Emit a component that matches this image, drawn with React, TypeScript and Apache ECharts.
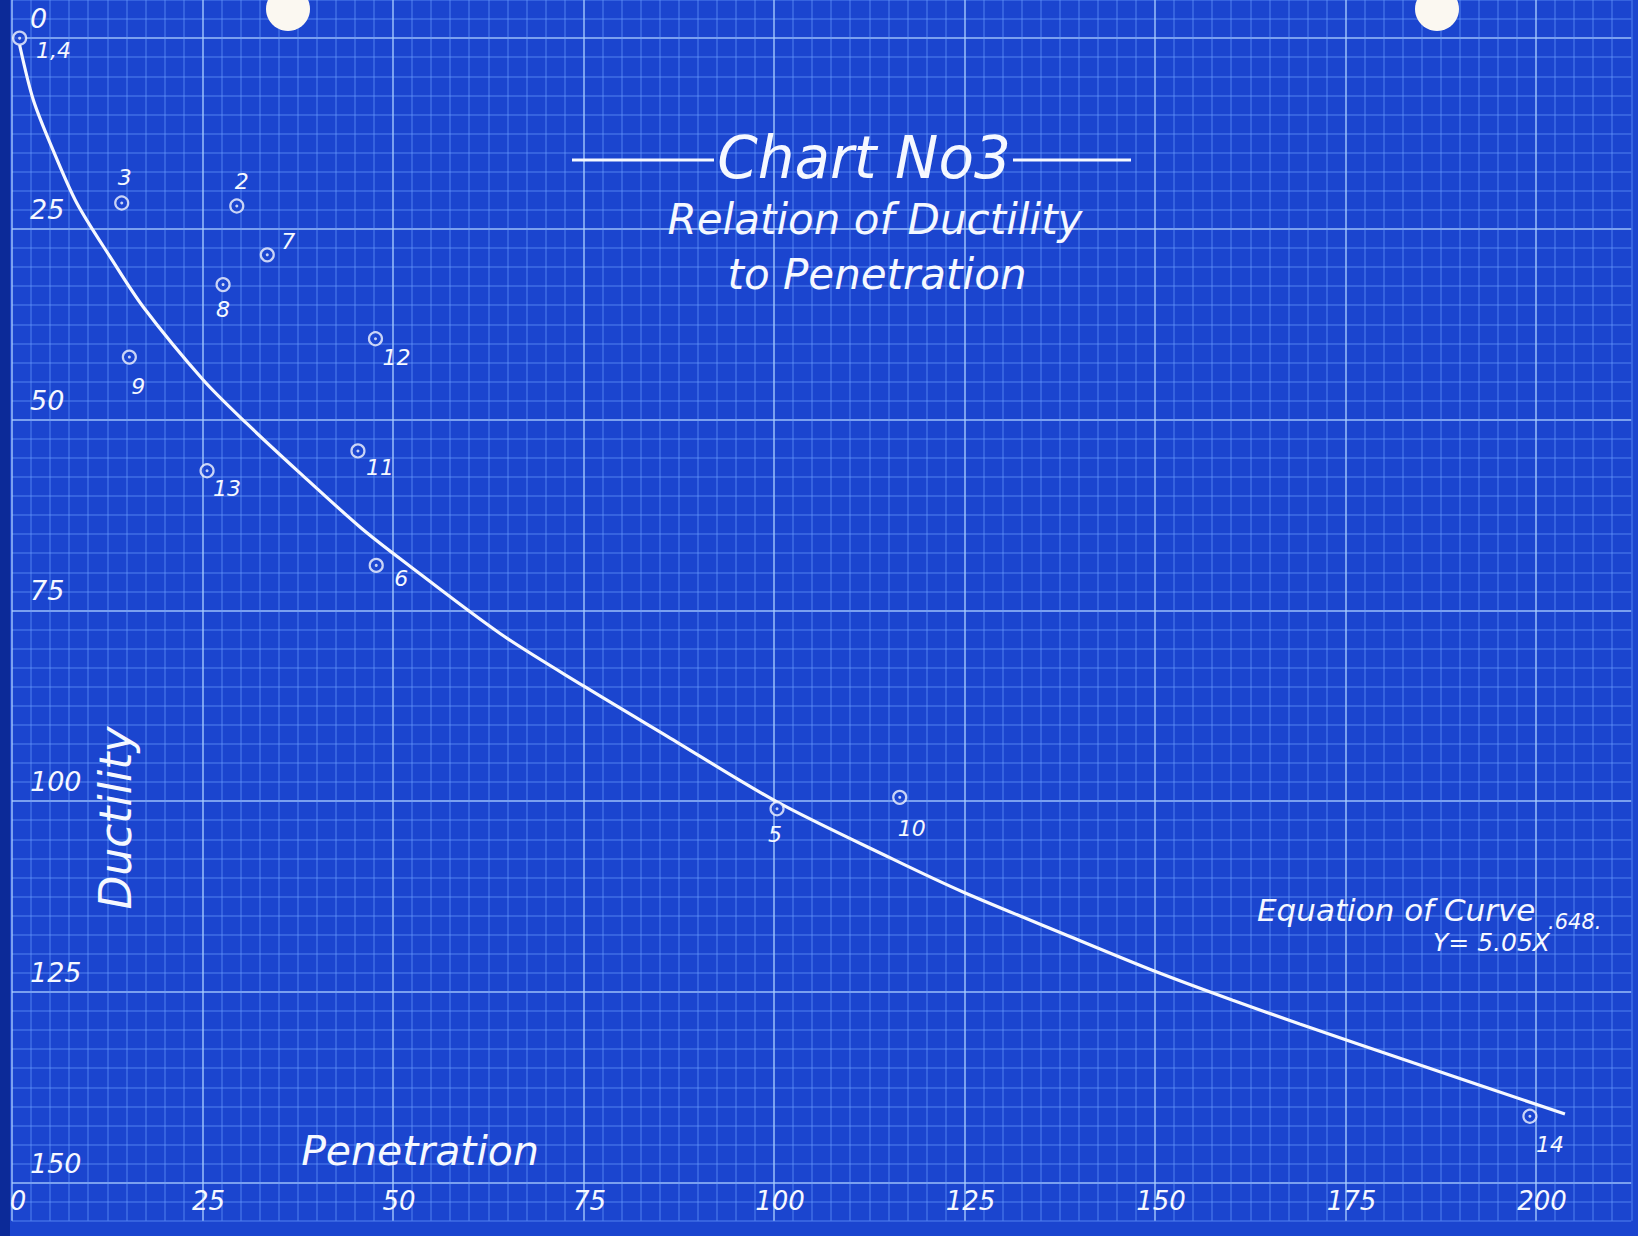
import React, { useEffect, useRef } from "react";
import * as echarts from "echarts";

// ---- data ----
const pointLabels = ["1,4", "3", "2", "7", "8", "9", "12", "13", "11", "6", "5", "10", "14"];
const pointPenetration = [1.0, 14.4, 29.5, 33.5, 27.7, 15.4, 47.7, 25.6, 45.4, 47.8, 100.4, 116.5, 199.2];
const pointDuctility = [0.0, 21.6, 22.0, 28.4, 32.3, 41.8, 39.4, 56.7, 54.1, 69.1, 101.0, 99.5, 141.3];

const curvePenetration = [1.0, 2.8, 5.4, 8.5, 12.9, 17.2, 25.1, 30.8, 37.8, 45.7, 50.9, 64.0, 75.0, 86.0, 100.4, 115.6, 124.8, 138.5, 150.0, 160.2, 169.0, 183.9, 203.8];
const curveDuctility = [0.9, 8.1, 14.7, 21.6, 28.7, 35.2, 44.8, 50.5, 57.0, 64.1, 68.2, 78.0, 84.9, 91.5, 100.1, 107.6, 111.9, 117.6, 122.3, 126.1, 129.2, 134.3, 141.0];

const penetrationTicks = [0, 25, 50, 75, 100, 125, 150, 175, 200];
const ductilityTicks = [0, 25, 50, 75, 100, 125, 150];

// label placement (pixels, relative to each point) – styling only
const labelOffsets = [
  [34, 12], [3, -25], [5, -25], [21, -13], [0, 25], [9, 29], [21, 19],
  [20, 18], [22, 17], [25, 13], [-2, 26], [12, 31], [20, 28],
];

// ---- layout / style constants ----
const W = 1638;
const H = 1236;
const PX_X = 7.62;
const PX_Y = 7.63;
const LEFT = 12;
const BG = "#1b45cf";
const INK = "#f5f8ff";
const FONT = "'DejaVu Sans', 'Liberation Sans', sans-serif";
const FINE = "rgba(110,162,255,0.45)";
const MAJOR = "rgba(172,208,255,0.88)";

function cycleColors(brightIndex: number): string[] {
  const arr: string[] = [];
  for (let i = 0; i < 10; i++) arr.push(i === brightIndex ? MAJOR : FINE);
  return arr;
}

export default function App() {
  const ref = useRef<HTMLDivElement>(null);

  useEffect(() => {
    document.body.style.margin = "0";
    if (!ref.current) return;
    const chart = echarts.init(ref.current, null, { renderer: "svg" });

    const pointData = pointPenetration.map((x, i) => ({
      value: [x, pointDuctility[i]],
      name: pointLabels[i],
      label: { offset: labelOffsets[i] },
    }));
    const curveData = curvePenetration.map((x, i) => [x, curveDuctility[i]]);

    const tickSet = (arr: number[]) => (v: number) => (arr.indexOf(Math.round(v * 100) / 100) >= 0 ? String(v) : "");

    const option: any = {
      animation: false,
      backgroundColor: BG,
      grid: [
        { left: LEFT, top: 0, width: 212.5 * PX_X, height: 160 * PX_Y, containLabel: false },
        { left: LEFT, top: 5 * PX_Y, width: 200 * PX_X, height: 150 * PX_Y, containLabel: false },
      ],
      xAxis: [
        {
          type: "value", gridIndex: 0, min: 0, max: 212.5, interval: 2.5,
          axisLine: { show: false }, axisTick: { show: false }, axisLabel: { show: false },
          splitLine: { show: true, lineStyle: { color: cycleColors(0), width: 1.5 } },
        },
        {
          type: "value", gridIndex: 1, min: 0, max: 200, interval: 25, position: "bottom",
          axisLine: { show: false }, axisTick: { show: false }, splitLine: { show: false },
          axisLabel: {
            show: true, margin: 5, color: INK, fontSize: 26, fontStyle: "italic", fontFamily: FONT,
            padding: [0, 0, 0, 12],
            formatter: tickSet(penetrationTicks),
          },
        },
      ],
      yAxis: [
        {
          type: "value", gridIndex: 0, min: -5, max: 155, interval: 2.5, inverse: true,
          axisLine: { show: false }, axisTick: { show: false }, axisLabel: { show: false },
          splitLine: { show: true, lineStyle: { color: cycleColors(2), width: 1.5 } },
        },
        {
          type: "value", gridIndex: 1, min: 0, max: 150, interval: 25, inverse: true, position: "left",
          axisLine: { show: false }, axisTick: { show: false }, splitLine: { show: false },
          axisLabel: {
            show: true, inside: true, margin: 18, color: INK, fontSize: 27, fontStyle: "italic",
            fontFamily: FONT, verticalAlign: "bottom", padding: [0, 0, 6, 0],
            formatter: tickSet(ductilityTicks),
          },
        },
      ],
      series: [
        {
          type: "line", xAxisIndex: 0, yAxisIndex: 0, data: curveData, smooth: 0.3,
          showSymbol: false, symbol: "none", clip: false,
          lineStyle: { color: INK, width: 3.2 }, z: 3,
        },
        {
          type: "scatter", xAxisIndex: 0, yAxisIndex: 0, data: pointData, symbol: "circle",
          symbolSize: 13, clip: false, z: 4,
          itemStyle: { color: BG, borderColor: INK, borderWidth: 2.2 },
          label: {
            show: true, position: "inside", formatter: (p: any) => p.name, color: INK,
            fontSize: 22, fontStyle: "italic", fontFamily: FONT, opacity: 1,
          },
          emphasis: { disabled: true },
        },
        {
          type: "scatter", xAxisIndex: 0, yAxisIndex: 0,
          data: pointPenetration.map((x, i) => [x, pointDuctility[i]]),
          symbol: "circle", symbolSize: 3, clip: false, z: 5,
          itemStyle: { color: INK }, silent: true,
        },
      ],
      graphic: [
        { type: "rect", left: 0, top: 0, shape: { width: 10, height: H }, style: { fill: "#0c2a98" }, z: 10 },
        { type: "circle", shape: { cx: 288, cy: 9, r: 22 }, style: { fill: "#fbf8f1" }, z: 10 },
        { type: "circle", shape: { cx: 1437, cy: 9, r: 22 }, style: { fill: "#fbf8f1" }, z: 10 },
        { type: "line", shape: { x1: 572, y1: 160, x2: 714, y2: 160 }, style: { stroke: INK, lineWidth: 3 }, z: 10 },
        { type: "line", shape: { x1: 1013, y1: 160, x2: 1131, y2: 160 }, style: { stroke: INK, lineWidth: 3 }, z: 10 },
        {
          type: "text", x: 864, y: 158, z: 10,
          style: { text: "Chart No3", fill: INK, font: `italic 58px ${FONT}`, align: "center", verticalAlign: "middle" },
        },
        {
          type: "text", x: 875, y: 219, z: 10,
          style: { text: "Relation of Ductility", fill: INK, font: `italic 42px ${FONT}`, align: "center", verticalAlign: "middle" },
        },
        {
          type: "text", x: 877, y: 274, z: 10,
          style: { text: "to Penetration", fill: INK, font: `italic 42px ${FONT}`, align: "center", verticalAlign: "middle" },
        },
        {
          type: "text", x: 420, y: 1151, z: 10,
          style: { text: "Penetration", fill: INK, font: `italic 41px ${FONT}`, align: "center", verticalAlign: "middle" },
        },
        {
          type: "text", x: 115, y: 818, rotation: Math.PI / 2, z: 10,
          style: { text: "Ductility", fill: INK, font: `italic 44px ${FONT}`, align: "center", verticalAlign: "middle" },
        },
        {
          type: "text", x: 1257, y: 910, z: 10,
          style: { text: "Equation of Curve", fill: INK, font: `italic 31px ${FONT}`, align: "left", verticalAlign: "middle" },
        },
        {
          type: "text", x: 1433, y: 942, z: 10,
          style: { text: "Y= 5.05X", fill: INK, font: `italic 25px ${FONT}`, align: "left", verticalAlign: "middle" },
        },
        {
          type: "text", x: 1548, y: 922, z: 10,
          style: { text: ".648.", fill: INK, font: `italic 21px ${FONT}`, align: "left", verticalAlign: "middle" },
        },
      ],
    };

    chart.setOption(option);
    return () => chart.dispose();
  }, []);

  return <div ref={ref} style={{ position: "absolute", left: 0, top: 0, width: W, height: H }} />;
}
